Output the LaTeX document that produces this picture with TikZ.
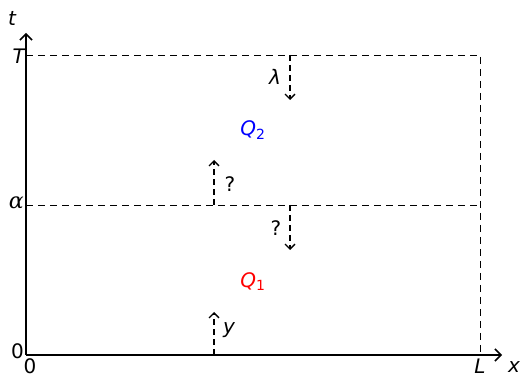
\documentclass[tikz,border=0pt]{standalone}
\usepackage{fontspec}
\setmainfont{DejaVu Sans}
\newfontfamily\greekserif{DejaVu Serif}
\usetikzlibrary{arrows.meta}
\begin{document}
\begin{tikzpicture}[x=1pt,y=1pt,
  lbl/.style={font=\fontsize{20}{23}\selectfont\itshape, inner sep=2pt},
  lblu/.style={font=\fontsize{20}{23}\selectfont, inner sep=2pt},
  axis/.style={line width=1.8pt,-{Straight Barb[length=6pt,width=12pt,line width=1.5pt]}},
  dsh/.style={line width=0.9pt,dash pattern=on 7pt off 5pt},
  darr/.style={line width=1.5pt,dash pattern=on 6pt off 4pt,-{Straight Barb[length=5pt,width=10pt,line width=1.3pt]}}]
\useasboundingbox (-26,-22) rectangle (498,355);
\coordinate (O) at (0,0);
\coordinate (xe) at (476,0);
\coordinate (ye) at (0,322);
\coordinate (T) at (0,300);
\coordinate (TL) at (454,300);
\coordinate (A) at (0,150);
\coordinate (AL) at (454,150);
\coordinate (L) at (454,0);
\coordinate (p1) at (188,0);
\coordinate (p1e) at (188,43);
\coordinate (p2) at (188,150);
\coordinate (p2e) at (188,195);
\coordinate (p3) at (264,300);
\coordinate (p3e) at (264,255);
\coordinate (p4) at (264,150);
\coordinate (p4e) at (264,105);
\draw[dsh] (T) -- (TL) -- (L);
\draw[dsh] (A) -- (AL);
\draw[axis] (O) -- (xe);
\draw[axis] (O) -- (ye);
\draw[darr] (p1) -- (p1e);
\draw[darr] (p2) -- (p2e);
\draw[darr] (p3) -- (p3e);
\draw[darr] (p4) -- (p4e);
\node[lbl] (tl) at (-14,337) {t};
\node[lbl,anchor=east,inner sep=1pt] (Tl) at (0,299) {T};
\node[anchor=east,inner sep=2pt,font=\fontsize{22}{24}\selectfont\greekserif\itshape] (al) at (0,152) {α};
\node[lblu,anchor=east,inner sep=2pt] (z1) at (0,4) {0};
\node[lblu] (z2) at (4,-11) {0};
\node[lbl] (Ll) at (454,-11) {L};
\node[lbl] (xl) at (488,-12) {x};
\node[lbl] (yl) at (203,25) {y};
\node[lblu] (q1) at (204,171) {?};
\node[lblu] (q2) at (250,127) {?};
\node[lbl] (lam) at (249,278) {λ};
\node[lbl,text=blue] (Q2) at (227,225) {Q\textsubscript{\upshape 2}};
\node[lbl,text=red] (Q1) at (227,73) {Q\textsubscript{\upshape 1}};
\end{tikzpicture}
\end{document}
